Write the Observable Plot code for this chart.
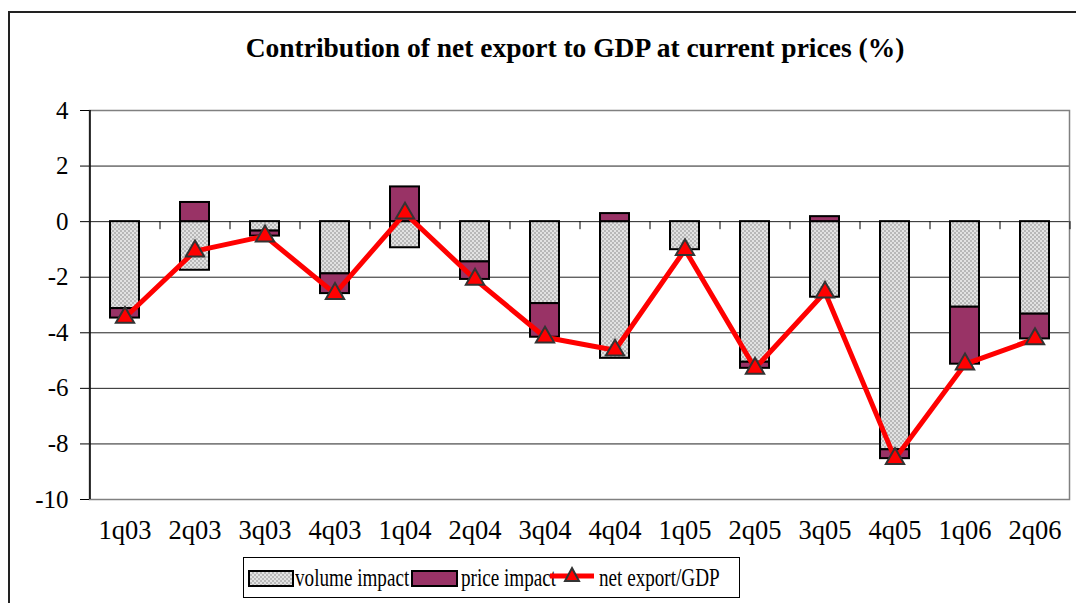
<!DOCTYPE html>
<html><head><meta charset="utf-8">
<script src="https://cdn.jsdelivr.net/npm/d3@7"></script>
<script src="https://cdn.jsdelivr.net/npm/@observablehq/plot@0.6"></script>
<style>
html,body{margin:0;padding:0;background:#fff;width:1076px;height:603px;overflow:hidden;}
#wrap{position:relative;width:1076px;height:603px;font-family:"Liberation Serif","Times New Roman",serif;color:#000;}
#frame{position:absolute;left:8px;top:11px;width:1200px;height:700px;border-left:2px solid #222;border-top:2px solid #222;}
#title{position:absolute;left:0;width:1150px;top:34px;text-align:center;font-weight:bold;font-size:27.5px;line-height:27.5px;white-space:nowrap;}
#chart{position:absolute;left:0;top:0;}
#legend{position:absolute;left:243px;top:557px;width:495px;height:39px;border:1px solid #000;background:#fff;}
.lt{position:absolute;font-size:25.5px;line-height:25.5px;white-space:nowrap;transform:scaleX(0.75);transform-origin:0 0;top:7px;}
.sw{position:absolute;}
</style>
</head><body>
<div id="wrap">
  <div id="frame"></div>
  <div id="chart"></div>
  <div id="title">Contribution of net export to GDP at current prices (%)</div>
  <div id="legend">
    <svg class="sw" style="left:4px;top:12px" width="46" height="17"><rect x="1" y="1" width="44" height="15" fill="url(#volpat)" stroke="#000" stroke-width="2"/></svg>
    <div class="lt" style="left:51px">volume impact</div>
    <svg class="sw" style="left:167px;top:12px" width="47" height="17"><rect x="1" y="1" width="45" height="15" fill="#993366" stroke="#000" stroke-width="2"/></svg>
    <div class="lt" style="left:217px">price impact</div>
    <svg class="sw" style="left:305px;top:6px" width="46" height="24"><line x1="1" y1="12" x2="45" y2="12" stroke="#ff0000" stroke-width="5"/><path d="M23,4 L30,17 L16,17 Z" fill="#ff0000" stroke="#333" stroke-width="2"/></svg>
    <div class="lt" style="left:355px">net export/GDP</div>
  </div>
</div>
<script>
const categories = ["1q03","2q03","3q03","4q03","1q04","2q04","3q04","4q04","1q05","2q05","3q05","4q05","1q06","2q06"];
const volumeImpact = [-3.13,-1.75,-0.34,-1.88,-0.94,-1.45,-2.95,-4.92,-1.01,-5.06,-2.72,-8.21,-3.08,-3.33];
const priceImpact  = [-0.34, 0.69,-0.18,-0.71, 1.25,-0.63,-1.21, 0.29, 0.00,-0.22, 0.18,-0.32,-2.05,-0.89];
const netExportGDP = [-3.45,-1.06,-0.52,-2.59, 0.30,-2.08,-4.16,-4.63,-1.01,-5.28,-2.54,-8.53,-5.13,-4.22];
const yTicks = [4,2,0,-2,-4,-6,-8,-10];
const gridValues = [2,0,-2,-4,-6,-8];
const seriesNames = ["volume impact","price impact"];

const barRows = [];
categories.forEach((c,i)=>{
  barRows.push({cat:c, series:seriesNames[0], value:volumeImpact[i]});
  barRows.push({cat:c, series:seriesNames[1], value:priceImpact[i]});
});
const netRows = categories.map((c,i)=>({cat:c, value:netExportGDP[i]}));
const serif = "'Liberation Serif', 'Times New Roman', serif";

const plot = Plot.plot({
  width:1076, height:603,
  marginLeft:89, marginRight:7, marginTop:110, marginBottom:104,
  style:"font-family: " + serif + "; font-size: 24px; color: #000; background: transparent; overflow: visible;",
  x:{domain:categories, paddingInner:0.586, paddingOuter:0.293, label:null},
  y:{domain:[-10,4], label:null},
  color:{type:"ordinal", domain:seriesNames, range:["url(#volpat)","#993366"]},
  marks:[
    Plot.ruleY(gridValues,{stroke:"#222", strokeWidth:1}),
    Plot.frame({stroke:"#808080", strokeWidth:1.5}),
    Plot.barY(barRows,{x:"cat", y:"value", fill:"series", stroke:"#000", strokeWidth:2, order:null}),
    Plot.ruleX(categories,{x:d=>d, y1:0, y2:-0.29, dx:35, stroke:"#000", strokeWidth:1}),
    Plot.ruleX([categories[0]],{x:d=>d, dx:-35, stroke:"#000", strokeWidth:1.5}),
    Plot.line(netRows,{x:"cat", y:"value", stroke:"#ff0000", strokeWidth:5}),
    Plot.dot(netRows,{x:"cat", y:"value", symbol:"triangle", r:6.8, fill:"#ff0000", stroke:"#333", strokeWidth:2}),
    Plot.axisY({ticks:yTicks, tickSize:9, tickPadding:12, fontSize:25, stroke:"#000", tickFormat:d=>String(d)}),
    Plot.axisX({tickSize:0, tickPadding:21, fontSize:26.5})
  ]
});
plot.setAttribute("font-family", serif.replace(/'/g,""));
d3.select(plot).selectAll("text").style("font-family", serif);
const ns = "http://www.w3.org/2000/svg";
const defs = document.createElementNS(ns,"defs");
defs.innerHTML = '<pattern id="volpat" width="4" height="4" patternUnits="userSpaceOnUse">'+
  '<rect width="4" height="4" fill="#b8b8b8"/><rect width="2" height="2" fill="#e2e2e2"/><rect x="2" y="2" width="2" height="2" fill="#e2e2e2"/></pattern>';
plot.insertBefore(defs, plot.firstChild);
document.getElementById("chart").appendChild(plot);
</script>
</body></html>
